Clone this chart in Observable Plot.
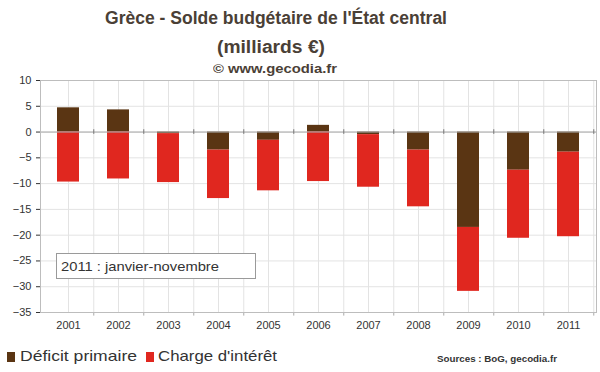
<!DOCTYPE html>
<html><head><meta charset="utf-8">
<script src="https://cdn.jsdelivr.net/npm/d3@7"></script>
<script src="https://cdn.jsdelivr.net/npm/@observablehq/plot@0.6"></script>
<style>
body{margin:0;background:#fff;font-family:"Liberation Sans",Arial,sans-serif;}
#wrap{position:relative;width:600px;height:372px;overflow:hidden;background:#fff;}
.abs{position:absolute;white-space:nowrap;}
.fit{display:inline-block;transform-origin:0 0;}
.title{color:#4a4036;font-weight:bold;}
#chart{position:absolute;left:0;top:70px;}
#note{position:absolute;left:56px;top:253px;width:200px;height:26px;box-sizing:border-box;border:1px solid #9a9a9a;background:#fff;}
.sq{position:absolute;width:8px;height:10px;}
</style></head>
<body>
<div id="wrap">
  <div class="abs title" style="left:105px;top:8px;font-size:18px;"><span class="fit" data-w="342">Grèce - Solde budgétaire de l'État central</span></div>
  <div class="abs title" style="left:217px;top:37px;font-size:18px;"><span class="fit" data-w="108">(milliards €)</span></div>
  <div class="abs title" style="left:213px;top:61px;font-size:13px;"><span class="fit" data-w="124">© www.gecodia.fr</span></div>
  <div id="chart"></div>
  <div id="note"><div class="abs" style="left:4px;top:5px;font-size:13px;color:#333;"><span class="fit" data-w="158">2011 : janvier-novembre</span></div></div>
  <div id="legend"></div>
  <div class="abs" style="left:437px;top:354px;font-size:9px;font-weight:bold;color:#333;"><span class="fit" data-w="120">Sources : BoG, gecodia.fr</span></div>
</div>
<script>
const years = ["2001","2002","2003","2004","2005","2006","2007","2008","2009","2010","2011"];
const primaire = [4.7, 4.3, -0.3, -3.5, -1.6, 1.3, -0.5, -3.5, -18.5, -7.4, -3.9];
const interet = [-9.7, -9.1, -9.5, -9.4, -9.8, -9.6, -10.2, -11.0, -12.4, -13.2, -16.4];
const seriesNames = ["Déficit primaire", "Charge d'intérêt"];
const seriesColors = ["#5a3513", "#e0271f"];
const yTicks = [10, 5, 0, -5, -10, -15, -20, -25, -30, -35];

const rows = [];
years.forEach((y, i) => rows.push({year: y, serie: seriesNames[0], value: primaire[i]}));
years.forEach((y, i) => rows.push({year: y, serie: seriesNames[1], value: interet[i]}));

const W = 600, H = 270, mL = 40, mR = 4, mT = 10, mB = 28;
const step = (W - mL - mR) / years.length;
const grid = "#e3e3e3";

const chart = Plot.plot({
  width: W, height: H,
  marginLeft: mL, marginRight: mR, marginTop: mT, marginBottom: mB,
  style: {fontFamily: "Liberation Sans, Arial, sans-serif", fontSize: "11px", color: "#333", background: "transparent"},
  x: {type: "band", domain: years, paddingInner: 0.565, paddingOuter: 0.2825, tickSize: 0, tickPadding: 9, label: null},
  y: {domain: [-35, 10], ticks: yTicks, tickSize: 4, tickPadding: 5, label: null},
  color: {domain: seriesNames, range: seriesColors},
  marks: [
    Plot.ruleY(yTicks, {stroke: grid}),
    Plot.ruleX(years, {stroke: grid}),
    Plot.ruleX(years, {stroke: grid, dx: step / 2}),
    Plot.barY(rows, {x: "year", y: "value", fill: "serie"}),
    Plot.ruleY([0], {stroke: "#a8a8a8"}),
    Plot.ruleX(years, {y1: 0.45, y2: -0.45, dx: step / 2, stroke: "#777"}),
    Plot.ruleX(years, {y1: -35, y2: -35.7, dx: step / 2, stroke: "#aaa"}),
    Plot.frame({stroke: "#bdbdbd"})
  ]
});
document.getElementById("chart").appendChild(chart);

const legend = document.getElementById("legend");
const legPos = [{sq: 7, tx: 20, w: 117}, {sq: 146, tx: 158, w: 119}];
seriesNames.forEach((s, i) => {
  const sq = document.createElement("div");
  sq.className = "sq";
  sq.style.left = legPos[i].sq + "px"; sq.style.top = "352px"; sq.style.background = seriesColors[i];
  legend.appendChild(sq);
  const t = document.createElement("div");
  t.className = "abs";
  t.style.cssText = `left:${legPos[i].tx}px;top:347px;font-size:15px;color:#333;`;
  t.innerHTML = `<span class="fit" data-w="${legPos[i].w}"></span>`;
  t.firstChild.textContent = s;
  legend.appendChild(t);
});

document.querySelectorAll(".fit").forEach(el => {
  const w = +el.dataset.w, cw = el.getBoundingClientRect().width;
  if (cw > 0) el.style.transform = `scaleX(${w / cw})`;
});
</script>
</body></html>
